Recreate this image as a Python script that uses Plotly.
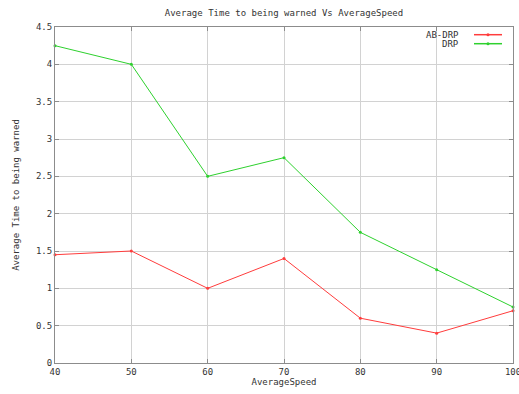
import plotly.graph_objects as go

speeds = [40, 50, 60, 70, 80, 90, 100]
ab_drp = [1.45, 1.5, 1.0, 1.4, 0.6, 0.4, 0.7]
drp = [4.25, 4.0, 2.5, 2.75, 1.75, 1.25, 0.75]
series_names = ["AB-DRP", "DRP"]
series_colors = ["#ff3c3c", "#2ed12e"]
y_ticks = [0, 0.5, 1, 1.5, 2, 2.5, 3, 3.5, 4, 4.5]
y_ticktext = ["0", "0.5", "1", "1.5", "2", "2.5", "3", "3.5", "4", "4.5"]

FONT = "DejaVu Sans Mono"
W, H = 519, 394
L, R, T, B = 55, 6, 27, 31

fig = go.Figure()
for name, vals, col in zip(series_names, [ab_drp, drp], series_colors):
    fig.add_trace(go.Scatter(x=speeds, y=vals, mode="lines+markers", name=name,
                             line=dict(color=col, width=1),
                             marker=dict(color=col, size=3), cliponaxis=False))

axis_common = dict(showline=True, linecolor="#8c8c8c", linewidth=1, mirror="ticks",
                   ticks="inside", ticklen=4, tickcolor="#8c8c8c",
                   showgrid=True, gridcolor="#d2d2d2", gridwidth=1,
                   zeroline=False, automargin=False, ticklabeloverflow="allow",
                   tickfont=dict(family=FONT, size=9, color="#333"))

fig.update_layout(
    width=W, height=H,
    margin=dict(l=L, r=R, t=T, b=B, autoexpand=False),
    paper_bgcolor="white", plot_bgcolor="white",
    showlegend=False,
    title=dict(text="Average Time to being warned Vs AverageSpeed",
               x=0.5, xref="paper", xanchor="center", y=1 - 13 / H, yanchor="middle",
               font=dict(family=FONT, size=9, color="#333")),
    xaxis=dict(range=[40, 100], tickvals=speeds, ticktext=[str(s) for s in speeds],
               title=dict(text="AverageSpeed", font=dict(family=FONT, size=9, color="#333"), standoff=2),
               **axis_common),
    yaxis=dict(range=[0, 4.5], tickvals=y_ticks, ticktext=y_ticktext,
               title=dict(text="Average Time to being warned", font=dict(family=FONT, size=9, color="#333"), standoff=14),
               **axis_common),
)

pw, ph = W - L - R, H - T - B
def px_x(p):
    return (p - L) / pw
def px_y(p):
    return 1 - (p - T) / ph

# legend background box
fig.add_shape(type="rect", xref="paper", yref="paper",
              x0=px_x(428), x1=px_x(511), y0=px_y(48), y1=px_y(29),
              fillcolor="white", line=dict(width=0), layer="between")

for i, (name, col) in enumerate(zip(series_names, series_colors)):
    yy = px_y(34.7 + 9 * i)
    fig.add_annotation(x=px_x(461), y=yy, xref="paper", yref="paper", text=name,
                       showarrow=False, xanchor="right", yanchor="middle",
                       font=dict(family=FONT, size=9, color="#333"))
    fig.add_shape(type="line", xref="paper", yref="paper",
                  x0=px_x(474), x1=px_x(502), y0=yy, y1=yy,
                  line=dict(color=col, width=1.5))
    fig.add_trace(go.Scatter(x=[0.5 * (px_x(474) + px_x(502))], y=[yy], xaxis="x2", yaxis="y2",
                             mode="markers", marker=dict(color=col, size=3), showlegend=False,
                             hoverinfo="skip"))

fig.update_layout(
    xaxis2=dict(overlaying="x", range=[0, 1], visible=False, anchor="y2"),
    yaxis2=dict(overlaying="y", range=[0, 1], visible=False, anchor="x2"),
)

fig.write_html("out.html", config={"displayModeBar": False},
               post_script="document.body.style.margin='0';document.body.style.overflow='hidden';")
